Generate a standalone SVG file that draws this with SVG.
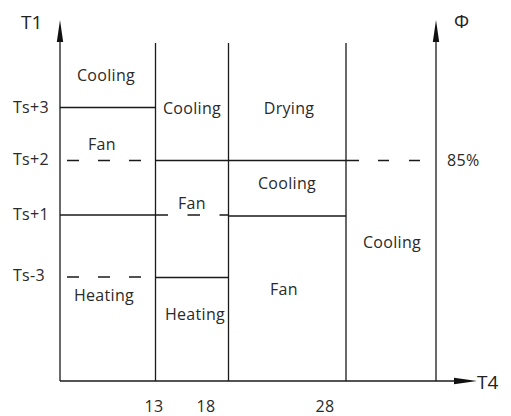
<svg xmlns="http://www.w3.org/2000/svg" width="511" height="416" viewBox="0 0 511 416">
<style>
.ln{stroke:#1a1a1a;stroke-width:1.3;fill:none}
.ds{stroke:#1a1a1a;stroke-width:1.3;fill:none}
.t{font-family:"Open Sans","DejaVu Sans",sans-serif;font-size:16px;letter-spacing:0.3px;fill:#2a2a2a}
.c{text-anchor:middle}
.ax{font-family:"Open Sans","DejaVu Sans",sans-serif;font-size:19px;fill:#222}
.ah{fill:#111}
</style>
<rect width="511" height="416" fill="#fff"/>
<g id="axes">
<line class="ln" x1="60" y1="38" x2="60" y2="381"/>
<polygon class="ah" points="60,20 63.2,42 56.8,42"/>
<line class="ln" x1="436" y1="38" x2="436" y2="381"/>
<polygon class="ah" points="436,20 439.2,42 432.8,42"/>
<line class="ln" x1="60" y1="381" x2="458" y2="381"/>
<polygon class="ah" points="477,381 454,377.8 454,384.2"/>
</g>
<g id="connectors">
<line class="ln" x1="155.5" y1="43" x2="155.5" y2="381"/>
<line class="ln" x1="228.5" y1="43" x2="228.5" y2="381"/>
<line class="ln" x1="346" y1="43" x2="346" y2="381"/>
<line class="ln" x1="60" y1="107.5" x2="155.5" y2="107.5"/>
<line class="ds" x1="67" y1="160.5" x2="142" y2="160.5" stroke-dasharray="12 19"/>
<line class="ln" x1="155.5" y1="160.5" x2="359" y2="160.5"/>
<line class="ds" x1="378" y1="160.5" x2="422" y2="160.5" stroke-dasharray="11 20"/>
<line class="ln" x1="60" y1="215" x2="155.5" y2="215"/>
<line class="ds" x1="155.5" y1="215" x2="228.5" y2="215" stroke-dasharray="12.5 19.5"/>
<line class="ln" x1="228.5" y1="216" x2="346" y2="216"/>
<line class="ds" x1="67" y1="277" x2="142" y2="277" stroke-dasharray="12 19"/>
<line class="ln" x1="155.5" y1="277.5" x2="228.5" y2="277.5"/>
</g>
<g id="axis-labels">
<text class="ax" x="21" y="29">T1</text>
<text class="ax" x="454" y="28">Φ</text>
<text class="ax" x="477" y="389">T4</text>
<text class="t" x="13" y="113">Ts+3</text>
<text class="t" x="13" y="165">Ts+2</text>
<text class="t" x="13" y="220">Ts+1</text>
<text class="t" x="13" y="281">Ts-3</text>
<text class="t" x="447" y="166">85%</text>
<text class="t c" x="154" y="412">13</text>
<text class="t c" x="206" y="412">18</text>
<text class="t c" x="325" y="412">28</text>
</g>
<g id="region-labels">
<text class="t c" x="106" y="81">Cooling</text>
<text class="t c" x="192" y="114">Cooling</text>
<text class="t c" x="289" y="114">Drying</text>
<text class="t c" x="102" y="150">Fan</text>
<text class="t c" x="287" y="189">Cooling</text>
<text class="t c" x="192" y="209">Fan</text>
<text class="t c" x="392" y="248">Cooling</text>
<text class="t c" x="284" y="295">Fan</text>
<text class="t c" x="104" y="301">Heating</text>
<text class="t c" x="195" y="320">Heating</text>
</g>
</svg>
